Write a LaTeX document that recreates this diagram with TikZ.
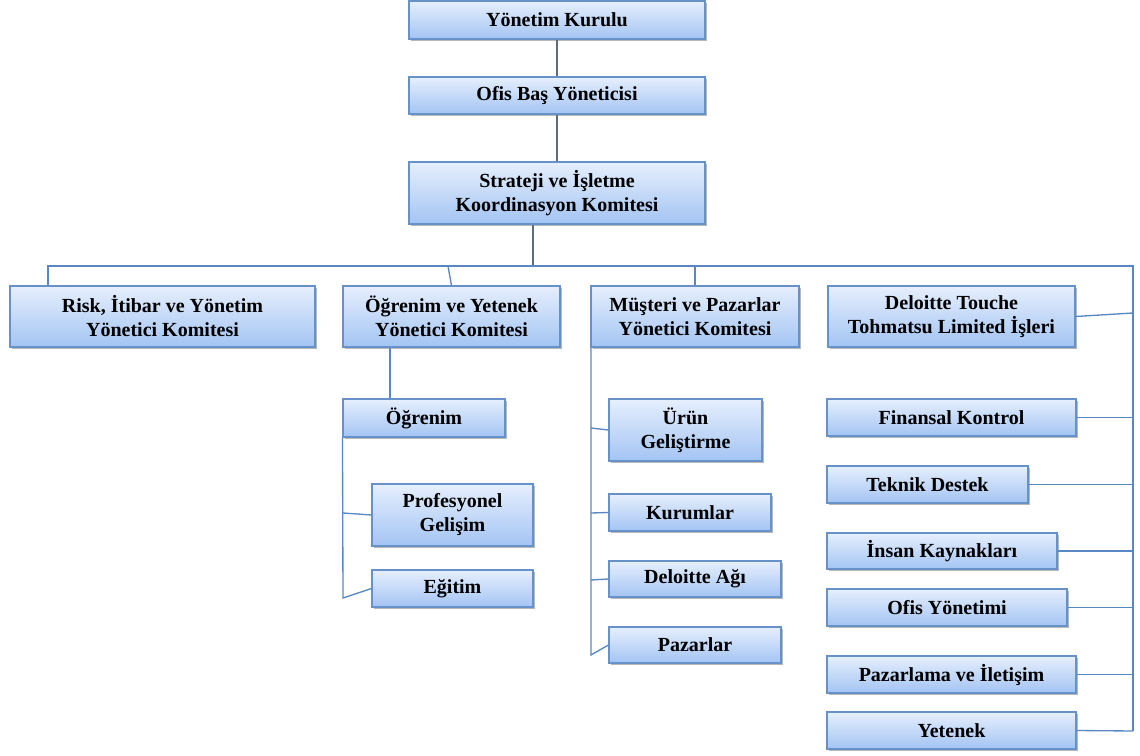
\documentclass[tikz,border=0pt]{standalone}
\usepackage{fontspec}
\setmainfont{Liberation Serif}
\usetikzlibrary{shadows}
\definecolor{boxtop}{RGB}{230,239,253}
\definecolor{boxbot}{RGB}{163,196,243}
\definecolor{boxline}{RGB}{102,146,201}
\definecolor{linkblue}{RGB}{88,136,195}
\definecolor{linkgrey}{RGB}{95,108,124}
\tikzset{
  box/.style={draw=boxline, line width=0.8pt, top color=boxtop, bottom color=boxbot,
    align=center, inner sep=0pt, font=\fontsize{15}{18}\selectfont\bfseries,
    drop shadow={shadow xshift=1.6pt, shadow yshift=-1.8pt, fill=black, opacity=0.28}},
  wh/.style 2 args={minimum width=#1*0.75pt, minimum height=#2*0.75pt},
  link/.style={draw=linkblue, line width=1pt},
  toplink/.style={draw=linkgrey, line width=1pt}
}
\begin{document}
\begin{tikzpicture}[x=0.75pt, y=-0.75pt]
\useasboundingbox (0,0) rectangle (1140,756);

% top chain
\node[box, wh={296}{38}] (yk)  at (557,20)    {Yönetim Kurulu};
\node[box, wh={296}{37}] (obc) at (557,95.5)  {Ofis Baş Yöneticisi};
\node[box, wh={296}{62}] (sik) at (557,193)   {Strateji ve İşletme\\Koordinasyon Komitesi};

% committees
\node[box, wh={305}{61}] (risk) at (162.5,316.5) {Risk, İtibar ve Yönetim\\Yönetici Komitesi};
\node[box, wh={217}{61}] (oyy)  at (451.5,316.5) {Öğrenim ve Yetenek\\Yönetici Komitesi};
\node[box, wh={208}{61}] (mpy)  at (695,316.5)   {Müşteri ve Pazarlar\\Yönetici Komitesi};
\node[box, wh={247}{61}] (dtt)  at (951.5,316.5) {Deloitte Touche\\Tohmatsu Limited İşleri};

% learning branch
\node[box, wh={162}{38}] (ogr)  at (424,418)   {Öğrenim};
\node[box, wh={161}{62}] (prof) at (452.5,515) {Profesyonel\\Gelişim};
\node[box, wh={161}{37}] (egt)  at (452.5,588.5) {Eğitim};

% clients and markets branch
\node[box, wh={153}{62}] (urun) at (685.5,430) {Ürün\\Geliştirme};
\node[box, wh={162}{37}] (kur)  at (690,512.5) {Kurumlar};
\node[box, wh={172}{36}] (dag)  at (695,579)   {Deloitte Ağı};
\node[box, wh={172}{36}] (paz)  at (695,645)   {Pazarlar};

% DTTL branch
\node[box, wh={249}{37}] (fin) at (951.5,417.5) {Finansal Kontrol};
\node[box, wh={201}{37}] (tek) at (927.5,484.5) {Teknik Destek};
\node[box, wh={230}{36}] (ik)  at (942,551)     {İnsan Kaynakları};
\node[box, wh={240}{37}] (ofy) at (947,607.5)   {Ofis Yönetimi};
\node[box, wh={249}{37}] (pil) at (951.5,674.5) {Pazarlama ve İletişim};
\node[box, wh={249}{37}] (yet) at (951.5,730.5) {Yetenek};

% junction points
\coordinate (busL) at (48,266);
\coordinate (busS) at (533,266);
\coordinate (busO) at (448,266);
\coordinate (busR) at (1133,266);
\coordinate (rvB)  at (1133,731);
\coordinate (dttR) at (1133,313);
\coordinate (ogrX) at (390,0);
\coordinate (ogrB) at (343,598);
\coordinate (profJ) at (343,513);
\coordinate (mX)   at (591,0);
\coordinate (urJ)  at (591,428);
\coordinate (kuJ)  at (591,513);
\coordinate (daJ)  at (591,580);
\coordinate (paJ)  at (591,655);

% connectors
\draw[toplink] (yk.south) -- (obc.north);
\draw[toplink] (obc.south) -- (sik.north);
\draw[toplink] (sik.south -| busS) -- (busS);
\draw[link] (risk.north -| busL) -- (busL) -- (busR) -- (rvB);
\draw[link] (busO) -- (oyy.north);
\draw[link] (mpy.north) -- (mpy.north |- busL);
\draw[link] (dtt.east) -- (dttR);

\draw[link] (oyy.south -| ogrX) -- (ogr.north -| ogrX);
\draw[link] (ogr.south west) -- (ogrB) -- (egt.west);
\draw[link] (profJ) -- (prof.west);

\draw[link] (mpy.south -| mX) -- (paJ) -- (paz.west);
\draw[link] (urJ) -- (urun.west);
\draw[link] (kuJ) -- (kur.west);
\draw[link] (daJ) -- (dag.west);

\draw[link] (fin.east) -- (fin.east -| rvB);
\draw[link] (tek.east) -- (tek.east -| rvB);
\draw[link] (ik.east)  -- (ik.east -| rvB);
\draw[link] (ofy.east) -- (ofy.east -| rvB);
\draw[link] (pil.east) -- (pil.east -| rvB);
\draw[link] (yet.east) -- (rvB);
\end{tikzpicture}
\end{document}
